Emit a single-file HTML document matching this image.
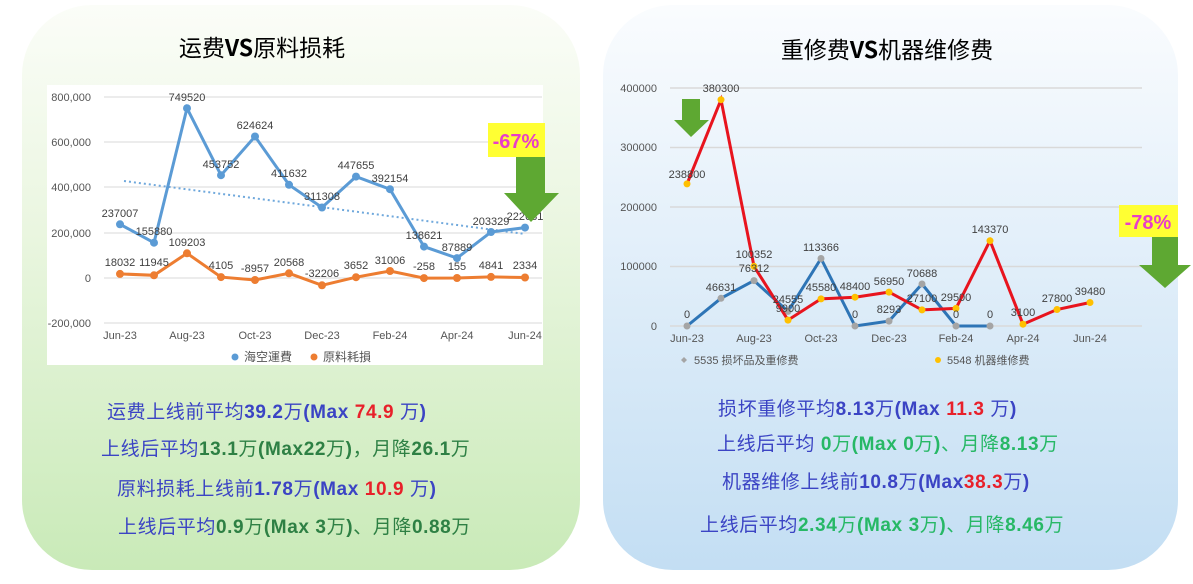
<!DOCTYPE html><html><head><meta charset="utf-8"><style>
body{margin:0;width:1193px;height:584px;background:#fff;position:relative;overflow:hidden;font-family:"Liberation Sans","Noto Sans CJK SC",sans-serif}
.p{position:absolute;border-radius:70px}
.t{position:absolute;white-space:nowrap;font-size:19px;color:#3b44c4;letter-spacing:0.6px}
.t b{font-weight:bold}
.r{color:#e8202a}.g{color:#2e8044}.g2{color:#27b866}
</style></head><body>
<div class="p" style="left:22px;top:5px;width:558px;height:565px;background:linear-gradient(#fbfdf8,#eaf6e0 40%,#c9eab8)"></div>
<div class="p" style="left:603px;top:5px;width:575px;height:565px;background:linear-gradient(#fafcfe,#e4f0fa 40%,#c3def3)"></div>
<div style="position:absolute;left:47px;top:85px;width:496px;height:280px;background:#fff"></div>
<svg width="1193" height="584" style="position:absolute;left:0;top:0" font-family="Liberation Sans, Noto Sans CJK SC, sans-serif">
<text x="262" y="56" font-size="23" text-anchor="middle" font-family="Noto Sans CJK SC, sans-serif">运费<tspan font-weight="bold">VS</tspan>原料损耗</text>
<text x="887" y="58" font-size="23" text-anchor="middle" font-family="Noto Sans CJK SC, sans-serif">重修费<tspan font-weight="bold">VS</tspan>机器维修费</text>
<g stroke="#d9d9d9" stroke-width="1">
<line x1="104" x2="542" y1="97" y2="97"/><line x1="104" x2="542" y1="142" y2="142"/><line x1="104" x2="542" y1="187" y2="187"/><line x1="104" x2="542" y1="233" y2="233"/><line x1="104" x2="542" y1="278" y2="278"/><line x1="104" x2="542" y1="323" y2="323"/>
</g>
<g font-size="11" fill="#555" text-anchor="end"><text x="91" y="101">800,000</text><text x="91" y="146">600,000</text><text x="91" y="191">400,000</text><text x="91" y="237">200,000</text><text x="91" y="282">0</text><text x="91" y="327">-200,000</text></g>
<g font-size="11" fill="#555" text-anchor="middle"><text x="120" y="339">Jun-23</text><text x="187" y="339">Aug-23</text><text x="255" y="339">Oct-23</text><text x="322" y="339">Dec-23</text><text x="390" y="339">Feb-24</text><text x="457" y="339">Apr-24</text><text x="525" y="339">Jun-24</text></g>
<line x1="124" y1="181" x2="525" y2="234" stroke="#6fa8dc" stroke-width="2" stroke-dasharray="2,3"/>
<polyline fill="none" stroke="#5b9bd5" stroke-width="3" points="120,224.3 154,242.7 187,108.2 221,175.2 255,136.5 289,184.8 322,207.5 356,176.6 390,189.2 424,246.6 457,258.1 491,232 525,227.6"/>
<g fill="#5b9bd5"><circle cx="120" cy="224.3" r="4"/><circle cx="154" cy="242.7" r="4"/><circle cx="187" cy="108.2" r="4"/><circle cx="221" cy="175.2" r="4"/><circle cx="255" cy="136.5" r="4"/><circle cx="289" cy="184.8" r="4"/><circle cx="322" cy="207.5" r="4"/><circle cx="356" cy="176.6" r="4"/><circle cx="390" cy="189.2" r="4"/><circle cx="424" cy="246.6" r="4"/><circle cx="457" cy="258.1" r="4"/><circle cx="491" cy="232" r="4"/><circle cx="525" cy="227.6" r="4"/></g>
<polyline fill="none" stroke="#ed7d31" stroke-width="3" points="120,273.9 154,275.3 187,253.3 221,277.1 255,280 289,273.3 322,285.3 356,277.2 390,271 424,278.1 457,278 491,276.9 525,277.5"/>
<g fill="#ed7d31"><circle cx="120" cy="273.9" r="4"/><circle cx="154" cy="275.3" r="4"/><circle cx="187" cy="253.3" r="4"/><circle cx="221" cy="277.1" r="4"/><circle cx="255" cy="280" r="4"/><circle cx="289" cy="273.3" r="4"/><circle cx="322" cy="285.3" r="4"/><circle cx="356" cy="277.2" r="4"/><circle cx="390" cy="271" r="4"/><circle cx="424" cy="278.1" r="4"/><circle cx="457" cy="278" r="4"/><circle cx="491" cy="276.9" r="4"/><circle cx="525" cy="277.5" r="4"/></g>
<g font-size="11" fill="#404040" text-anchor="middle">
<text x="120" y="217">237007</text><text x="154" y="235">155880</text><text x="187" y="101">749520</text><text x="221" y="168">453752</text><text x="255" y="129">624624</text><text x="289" y="177">411632</text><text x="322" y="200">311308</text><text x="356" y="169">447655</text><text x="390" y="182">392154</text><text x="424" y="239">138621</text><text x="457" y="251">87889</text><text x="491" y="225">203329</text><text x="525" y="220">222681</text>
<text x="120" y="266">18032</text><text x="154" y="266">11945</text><text x="187" y="246">109203</text><text x="221" y="269">4105</text><text x="255" y="272">-8957</text><text x="289" y="266">20568</text><text x="322" y="277">-32206</text><text x="356" y="269">3652</text><text x="390" y="264">31006</text><text x="424" y="270">-258</text><text x="457" y="270">155</text><text x="491" y="269">4841</text><text x="525" y="269">2334</text></g>
<circle cx="235" cy="357" r="3.5" fill="#5b9bd5"/><text x="244" y="361" font-size="12" fill="#555">海空運費</text>
<circle cx="314" cy="357" r="3.5" fill="#ed7d31"/><text x="323" y="361" font-size="12" fill="#555">原料耗損</text>
<rect x="488" y="123" width="57" height="34" fill="#ffff33"/><text x="516" y="148" font-size="20" font-weight="bold" fill="#e83ec8" text-anchor="middle">-67%</text>
<polygon points="516,157 545,157 545,193 559,193 531,222 504,193 516,193" fill="#5ea832"/>
<g stroke="#d9d9d9" stroke-width="1.5"><line x1="670" x2="1142" y1="88" y2="88"/><line x1="670" x2="1142" y1="147.5" y2="147.5"/><line x1="670" x2="1142" y1="207" y2="207"/><line x1="670" x2="1142" y1="266.5" y2="266.5"/><line x1="670" x2="1142" y1="326" y2="326"/></g>
<g font-size="11" fill="#555" text-anchor="end"><text x="657" y="92">400000</text><text x="657" y="151">300000</text><text x="657" y="211">200000</text><text x="657" y="270">100000</text><text x="657" y="330">0</text></g>
<g font-size="11" fill="#555" text-anchor="middle"><text x="687" y="342">Jun-23</text><text x="754" y="342">Aug-23</text><text x="821" y="342">Oct-23</text><text x="889" y="342">Dec-23</text><text x="956" y="342">Feb-24</text><text x="1023" y="342">Apr-24</text><text x="1090" y="342">Jun-24</text></g>
<polyline fill="none" stroke="#2e75b6" stroke-width="3" points="687,326 721,298.3 754,280.6 788,311.4 821,258.5 855,326 889,321.1 922,284 956,326 990,326"/>
<g fill="#a5a5a5"><circle cx="687" cy="326" r="3.5"/><circle cx="721" cy="298.3" r="3.5"/><circle cx="754" cy="280.6" r="3.5"/><circle cx="788" cy="311.4" r="3.5"/><circle cx="821" cy="258.5" r="3.5"/><circle cx="855" cy="326" r="3.5"/><circle cx="889" cy="321.1" r="3.5"/><circle cx="922" cy="284" r="3.5"/><circle cx="956" cy="326" r="3.5"/><circle cx="990" cy="326" r="3.5"/></g>
<polyline fill="none" stroke="#e8141e" stroke-width="3" points="687,183.9 721,99.7 754,266.3 788,320.1 821,298.9 855,297.2 889,292.1 922,309.9 956,308.4 990,240.7 1023,324.2 1057,309.5 1090,302.5"/>
<g fill="#ffc000"><circle cx="687" cy="183.9" r="3.5"/><circle cx="721" cy="99.7" r="3.5"/><circle cx="754" cy="266.3" r="3.5"/><circle cx="788" cy="320.1" r="3.5"/><circle cx="821" cy="298.9" r="3.5"/><circle cx="855" cy="297.2" r="3.5"/><circle cx="889" cy="292.1" r="3.5"/><circle cx="922" cy="309.9" r="3.5"/><circle cx="956" cy="308.4" r="3.5"/><circle cx="990" cy="240.7" r="3.5"/><circle cx="1023" cy="324.2" r="3.5"/><circle cx="1057" cy="309.5" r="3.5"/><circle cx="1090" cy="302.5" r="3.5"/></g>
<g font-size="11" fill="#404040" text-anchor="middle">
<text x="687" y="178">238800</text><text x="721" y="92">380300</text><text x="754" y="258">100352</text><text x="754" y="272">76312</text><text x="721" y="291">46631</text><text x="788" y="303">24555</text><text x="788" y="312">9900</text><text x="821" y="251">113366</text><text x="821" y="291">45580</text><text x="855" y="290">48400</text><text x="889" y="285">56950</text><text x="889" y="313">8293</text><text x="922" y="277">70688</text><text x="922" y="302">27100</text><text x="956" y="301">29500</text><text x="990" y="233">143370</text><text x="1023" y="316">3100</text><text x="1057" y="302">27800</text><text x="1090" y="295">39480</text>
<text x="687" y="318">0</text><text x="855" y="318">0</text><text x="956" y="318">0</text><text x="990" y="318">0</text></g>
<path d="M681,360 l3,-3 3,3 -3,3z" fill="#a5a5a5"/><text x="694" y="364" font-size="11" fill="#555">5535 损坏品及重修费</text>
<circle cx="938" cy="360" r="3" fill="#ffc000"/><text x="947" y="364" font-size="11" fill="#555">5548 机器维修费</text>
<polygon points="682,99 700,99 700,120 709,120 691,137 674,120 682,120" fill="#5ea832"/>
<rect x="1119" y="205" width="59" height="32" fill="#ffff33"/><text x="1148" y="229" font-size="20" font-weight="bold" fill="#e83ec8" text-anchor="middle">-78%</text>
<polygon points="1152,237 1178,237 1178,265 1191,265 1165,288 1139,265 1152,265" fill="#5ea832"/>
</svg>
<div class="t" style="left:107px;top:397px">运费上线前平均<b>39.2</b>万<b>(Max </b><b class="r">74.9</b> 万<b>)</b></div>
<div class="t" style="left:101px;top:434px;color:#333"><span style="color:#3b44c4">上线后平均</span><b class="g">13.1</b><span class="g">万</span><b class="g">(Max22</b><span class="g">万</span><b class="g">)</b><span class="g">，月降</span><b class="g">26.1</b><span class="g">万</span></div>
<div class="t" style="left:117px;top:474px">原料损耗上线前<b>1.78</b>万<b>(Max </b><b class="r">10.9</b> 万<b>)</b></div>
<div class="t" style="left:118px;top:512px">上线后平均<span class="g"><b>0.9</b>万<b>(Max 3</b>万<b>)</b>、月降<b>0.88</b>万</span></div>
<div class="t" style="left:718px;top:394px">损坏重修平均<b>8.13</b>万<b>(Max </b><b class="r">11.3</b> 万<b>)</b></div>
<div class="t" style="left:717px;top:429px">上线后平均 <span class="g2"><b>0</b>万<b>(Max 0</b>万<b>)</b>、月降<b>8.13</b>万</span></div>
<div class="t" style="left:722px;top:467px">机器维修上线前<b>10.8</b>万<b>(Max</b><b class="r">38.3</b>万<b>)</b></div>
<div class="t" style="left:700px;top:510px">上线后平均<span class="g2"><b>2.34</b>万<b>(Max 3</b>万<b>)</b>、月降<b>8.46</b>万</span></div>
</body></html>
